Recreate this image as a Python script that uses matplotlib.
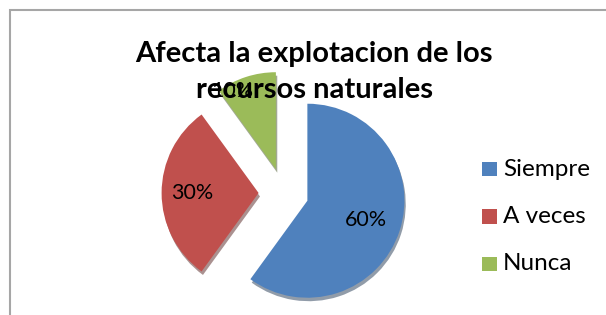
import matplotlib
matplotlib.use("Agg")
import matplotlib.pyplot as plt
import numpy as np
from matplotlib.patches import Rectangle, Shadow

title = "Afecta la explotacion de los\nrecursos naturales"
categories = ["Siempre", "A veces", "Nunca"]
values = [60, 30, 10]
colors = ["#4F81BD", "#C0504D", "#9BBB59"]

plt.rcParams['font.family'] = ['Lato', 'DejaVu Sans']

fig = plt.figure(figsize=(6.06, 3.15), dpi=100)
ax = fig.add_axes([0, 0, 1, 1])
ax.set_xlim(0, 606)
ax.set_ylim(0, 315)
ax.set_aspect('equal')
ax.axis('off')

# chart frame
ax.add_patch(Rectangle((10, -5), 620, 310, fill=False, edgecolor="#A6A6A6", lw=1.5))

R = 97
pct_dist = [0.64, 0.68, 0.85]
pct_dx = [0, 0, -18]
wedges, texts, autotexts = ax.pie(
    values, colors=colors, startangle=90, counterclock=False,
    explode=[25, 25, 25], center=(283.6, 122), radius=R,
    autopct=lambda p: f"{p:.0f}%", pctdistance=0.64,
    textprops=dict(fontsize=15.5, color="black"),
    wedgeprops=dict(linewidth=0, zorder=2),
)
for w, t, d, dx in zip(wedges, autotexts, pct_dist, pct_dx):
    sh = Shadow(w, 1.0, -2.5, shade=0.55, zorder=1.9)
    ax.add_patch(sh)
    th = np.deg2rad((w.theta1 + w.theta2) / 2)
    cx, cy = w.center
    t.set_position((cx + d * R * np.cos(th) + dx, cy + d * R * np.sin(th)))
    t.set_zorder(3)
ax.set_xlim(0, 606)
ax.set_ylim(0, 315)

ax.text(314, 315 - 72, title, ha='center', va='center', fontsize=21,
        fontweight='bold', linespacing=1.45, zorder=4)

# legend
for i, (cat, col) in enumerate(zip(categories, colors)):
    y = 315 - (169 + i * 47.5)
    ax.add_patch(Rectangle((482, y - 7), 14.5, 14.5, facecolor=col, edgecolor='none'))
    ax.text(503, y, cat, ha='left', va='center', fontsize=17.5)

fig.savefig("out.png", dpi=100)
